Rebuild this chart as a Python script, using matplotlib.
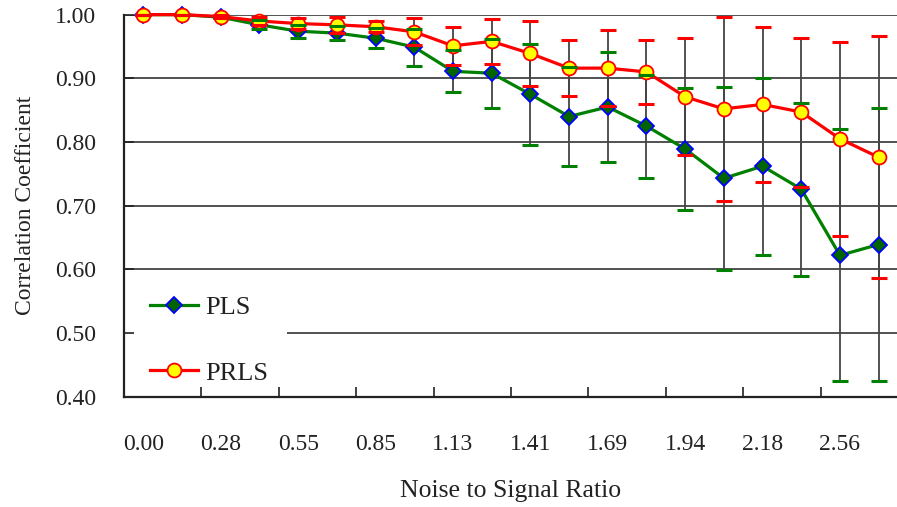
import matplotlib
matplotlib.use("Agg")
import matplotlib.pyplot as plt
from matplotlib.patches import Rectangle
import numpy as np

# === data ===
tick_labels = ["0.00", "0.28", "0.55", "0.85", "1.13", "1.41", "1.69", "1.94", "2.18", "2.56"]

pls = [1.000, 1.000, 0.996, 0.984, 0.974, 0.971, 0.963, 0.949, 0.911, 0.908,
       0.875, 0.840, 0.855, 0.825, 0.789, 0.743, 0.762, 0.726, 0.622, 0.639]
pls_err = [0.000, 0.000, 0.002, 0.007, 0.010, 0.011, 0.016, 0.029, 0.033, 0.054,
           0.079, 0.077, 0.086, 0.081, 0.096, 0.144, 0.139, 0.136, 0.198, 0.214]

prls = [1.000, 1.000, 0.997, 0.990, 0.986, 0.984, 0.981, 0.973, 0.951, 0.958,
        0.939, 0.916, 0.916, 0.910, 0.871, 0.852, 0.859, 0.847, 0.805, 0.776]
prls_err = [0.000, 0.000, 0.002, 0.007, 0.009, 0.013, 0.009, 0.021, 0.030, 0.035,
            0.051, 0.044, 0.060, 0.050, 0.092, 0.145, 0.122, 0.117, 0.152, 0.190]

x = np.arange(len(pls))

plt.rcParams['font.family'] = ['Liberation Serif', 'DejaVu Serif']
FS = 17
TXT = '#222222'

fig = plt.figure(figsize=(8.97, 5.07), dpi=100)
ax = fig.add_axes([124 / 897, 0.2176, 774 / 897, 0.7535])

# gridlines (drawn by hand so the legend patch can hide one)
yt = np.arange(0.4, 1.001, 0.1)
for y in yt[1:]:
    ax.axhline(y, color='#222222', lw=1.1, zorder=0.8)

# error bars: grey stems, coloured caps
for vals, err, capc in [(pls, pls_err, '#008000'), (prls, prls_err, '#ff0000')]:
    eb = ax.errorbar(x, vals, yerr=err, fmt='none', ecolor='#444444',
                     elinewidth=1.3, capsize=5.8, capthick=2.2)
    for cap in eb[1]:
        cap.set_markeredgecolor(capc)
        cap.set_markerfacecolor(capc)
        cap.set_zorder(5)
        cap.set_clip_on(False)
    eb[2][0].set_zorder(2)

ax.plot(x, pls, color='#008000', lw=2.3, marker='D', ms=8.5,
        mfc='#006400', mec='#0000ff', mew=1.3, label='PLS', zorder=3, clip_on=False)
ax.plot(x, prls, color='#ff0000', lw=2.3, marker='o', ms=10,
        mfc='#ffff00', mec='#ff0000', mew=1.3, label='PRLS', zorder=4, clip_on=False)

ax.set_xlim(-0.5, 19.5)
ax.set_ylim(0.4, 1.0)

ax.set_yticks(yt)
ax.set_yticklabels([f"{v:.2f}" for v in yt])
ax.set_xticks(np.arange(0, 20, 2))
ax.set_xticklabels(tick_labels)
ax.set_xticks(np.arange(-0.5, 19.6, 2), minor=True)

ax.tick_params(axis='y', direction='in', length=7, width=1.2, pad=20,
               labelsize=FS, labelcolor=TXT, color='#222222')
ax.tick_params(axis='x', which='major', length=0, pad=27, labelsize=FS, labelcolor=TXT)
ax.tick_params(axis='x', which='minor', direction='in', length=7, width=1.2, color='#222222')

for s in ['top', 'right']:
    ax.spines[s].set_visible(False)
for s in ['left', 'bottom']:
    ax.spines[s].set_linewidth(1.6)
    ax.spines[s].set_color('#222222')

ax.set_ylabel('Correlation Coefficient', fontsize=FS, color=TXT, labelpad=14)
ax.set_xlabel('Noise to Signal Ratio', fontsize=18.5, color=TXT, labelpad=18)

leg = ax.legend(loc='center left', bbox_to_anchor=(0.033, 0.148), frameon=False,
                fontsize=19, handlelength=1.85, handletextpad=0.25,
                labelspacing=1.6, borderpad=0, borderaxespad=0, labelcolor=TXT)

# white patch hiding the gridline behind the legend
fig.canvas.draw()
bb = leg.get_window_extent().transformed(ax.transAxes.inverted())
ax.add_patch(Rectangle((0, bb.y0), bb.x1 + 0.025, bb.height, transform=ax.transAxes,
                       facecolor='white', edgecolor='none', zorder=1))

fig.savefig('out.png', dpi=100)
